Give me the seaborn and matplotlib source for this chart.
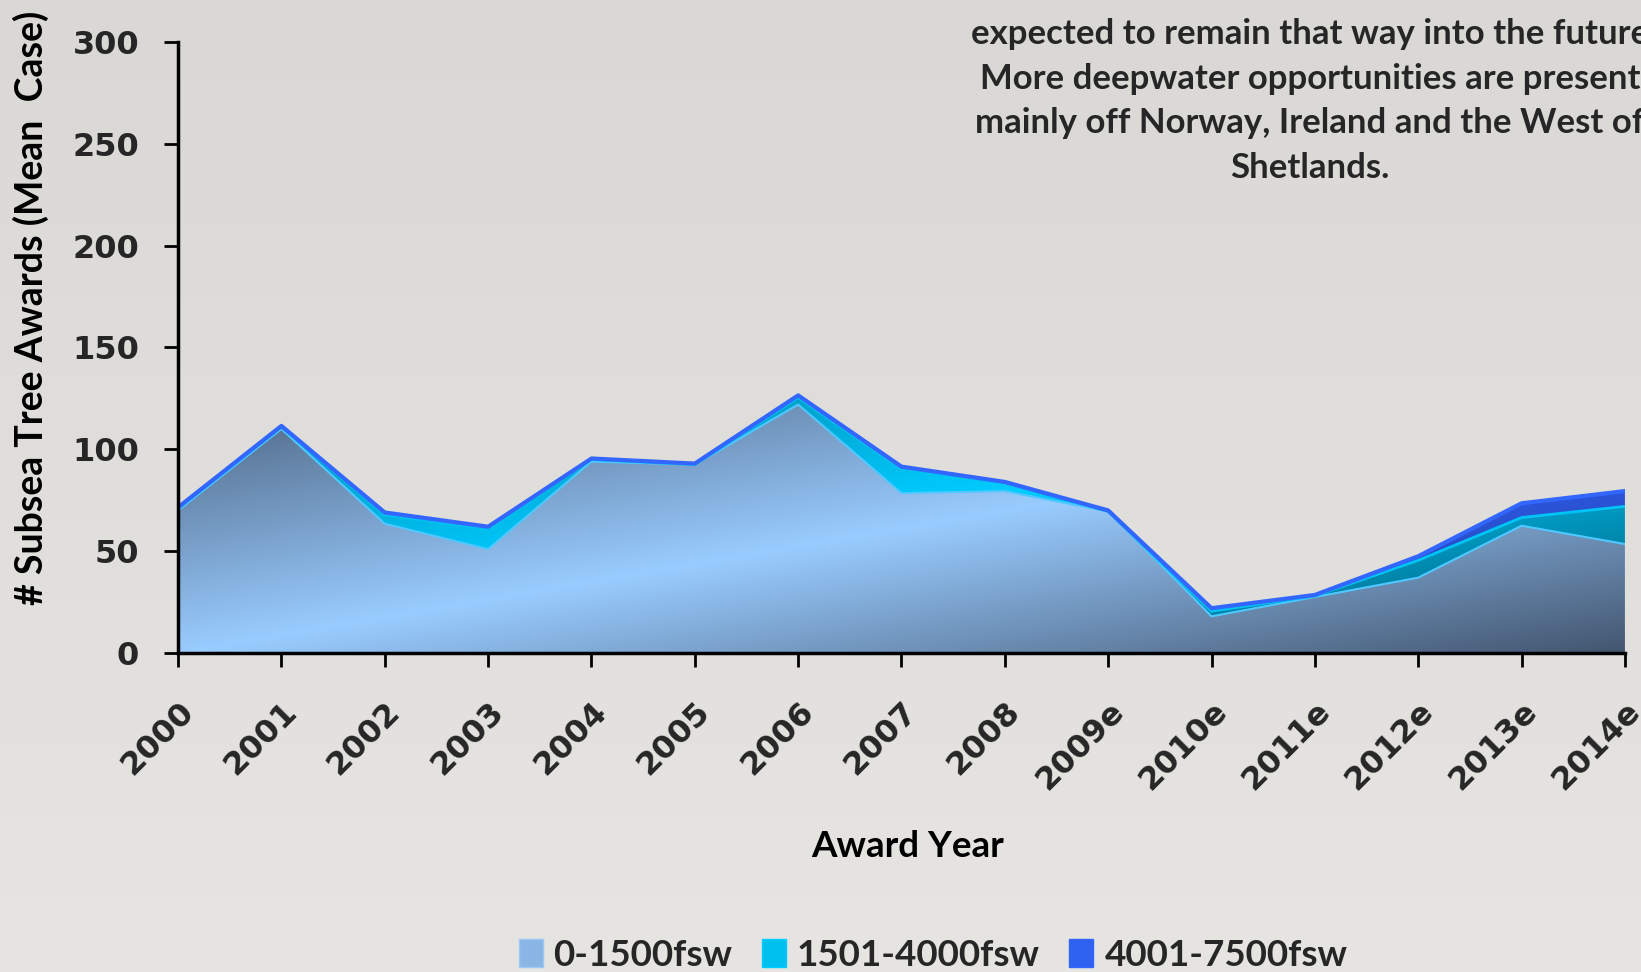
"""Subsea tree awards by water depth - stacked area chart."""
import matplotlib
matplotlib.use("Agg")
import matplotlib.pyplot as plt
import numpy as np
import pandas as pd
import seaborn as sns
from matplotlib.colors import LinearSegmentedColormap
from matplotlib.patches import Patch

# data
years = ["2000", "2001", "2002", "2003", "2004", "2005", "2006", "2007",
         "2008", "2009e", "2010e", "2011e", "2012e", "2013e", "2014e"]
shallow = [70, 110, 63.5, 51, 94, 92.5, 122, 78.5, 79.5, 69.5, 18, 27.5, 37, 62.5, 53.5]
medium = [1, 1, 4.5, 10, 1, 0, 3.5, 12, 4, 0, 2.5, 0.5, 8.5, 4, 18.5]
deep = [0.5, 0.5, 1, 1, 0.5, 0.5, 1, 1, 0.5, 0.5, 1.5, 0.5, 2, 7, 7.5]
series_names = ["0-1500fsw", "1501-4000fsw", "4001-7500fsw"]
note_lines = [
    "expected to remain that way into the future",
    "More deepwater opportunities are present",
    "mainly off Norway, Ireland and the West of",
    "Shetlands.",
]

df = pd.DataFrame({"year": years, "pos": np.arange(len(years)),
                   "shallow": shallow, "medium": medium, "deep": deep})
df["top1"] = df["shallow"]
df["top2"] = df["top1"] + df["medium"]
df["top3"] = df["top2"] + df["deep"]

sns.set_theme(style="ticks")
plt.rcParams["font.family"] = ["Lato", "DejaVu Sans"]
plt.rcParams["font.weight"] = "bold"

fig = plt.figure(figsize=(16.41, 9.72), dpi=100)
fig.patch.set_facecolor("#e0dfdb")

# soft background shade
bg = fig.add_axes([0, 0, 1, 1], zorder=-10)
bg.imshow(np.linspace(0, 1, 256).reshape(-1, 1), aspect="auto", origin="upper",
          extent=[0, 1, 0, 1],
          cmap=LinearSegmentedColormap.from_list("bg", ["#d9d8d4", "#e6e5e1"]))
bg.set_axis_off()

ax = fig.add_axes([0.1085, 0.3282, 0.8817, 0.6286])
ax.set_facecolor("none")


def gradient_area(ax, x, lower, upper, stops, zorder):
    """Fill between lower/upper with a diagonal (Excel-like) gradient."""
    poly = ax.fill_between(x, lower, upper, facecolor="none", edgecolor="none")
    path = poly.get_paths()[0]
    ylo, yhi = float(np.min(lower)), float(np.max(upper))
    U, V = np.meshgrid(np.linspace(0, 1, 400), np.linspace(0, 1, 300))
    t = (U + V) / 2
    cmap = LinearSegmentedColormap.from_list("g", stops)
    im = ax.imshow(t, cmap=cmap, vmin=0, vmax=1, origin="upper", aspect="auto",
                   extent=[x[0], x[-1], ylo, yhi], zorder=zorder, interpolation="bilinear")
    im.set_clip_path(path, transform=ax.transData)


x = df["pos"].to_numpy()
zero = np.zeros(len(x))
gradient_area(ax, x, zero, df["top1"].to_numpy(),
              ["#4e6582", "#99ccff", "#435670"], 1.0)
gradient_area(ax, x, df["top1"].to_numpy(), df["top2"].to_numpy(),
              ["#0080a4", "#00ccff", "#006582"], 1.1)
gradient_area(ax, x, df["top2"].to_numpy(), df["top3"].to_numpy(),
              ["#2446b8", "#3366ff", "#2140a8"], 1.2)

sns.lineplot(data=df, x="pos", y="top1", color="#4fc8ff", lw=1.5, ax=ax, zorder=2.0)
sns.lineplot(data=df, x="pos", y="top2", color="#00c4f4", lw=2.0, ax=ax, zorder=2.1)
sns.lineplot(data=df, x="pos", y="top3", color="#3366ff", lw=3.0, ax=ax, zorder=2.2)

ax.set_xlim(0, 14)
ax.set_ylim(0, 300)
ax.set_xticks(x)
ax.set_xticklabels(years, rotation=45, ha="right", va="top", rotation_mode="anchor",
                   fontfamily="DejaVu Sans", fontweight="bold", fontsize=23)
ax.set_yticks(range(0, 301, 50))
ax.set_yticklabels([str(v) for v in range(0, 301, 50)],
                   fontfamily="DejaVu Sans", fontweight="bold", fontsize=23)
ax.tick_params(axis="both", direction="out", length=10, width=2, color="black")
ax.tick_params(axis="x", pad=21)
ax.tick_params(axis="y", pad=18)
sns.despine(ax=ax)
for side in ("left", "bottom"):
    ax.spines[side].set_linewidth(2.5)
    ax.spines[side].set_color("black")

ax.set_xlabel("Award Year", fontsize=26.5, fontweight="bold", color="black")
ax.set_ylabel("# Subsea Tree Awards (Mean  Case)", fontsize=27, fontweight="bold", color="black")
ax.xaxis.set_label_coords(0.5045, -0.316)
ax.xaxis.label.set_va("center")
ax.yaxis.set_label_coords(-0.1016, 0.565)
ax.yaxis.label.set_va("center")

handles = [Patch(facecolor="#8ab6e6", edgecolor="#9cc8f4"),
           Patch(facecolor="#00c0f0", edgecolor="#00ccff"),
           Patch(facecolor="#2f62f0", edgecolor="#3366ff")]
fig.legend(handles, series_names, loc="center", bbox_to_anchor=(933 / 1641, 1 - 955 / 972),
           ncol=3, frameon=False, fontsize=26.5, handlelength=0.65, handleheight=0.8,
           columnspacing=0.8, handletextpad=0.3)

fig.text(1310 / 1641, 1 - 101 / 972, "\n".join(note_lines), ha="center", va="center",
         multialignment="center", fontsize=25, fontweight="bold", linespacing=1.49)

fig.savefig("out.png", dpi=100, facecolor=fig.get_facecolor())
plt.close(fig)
